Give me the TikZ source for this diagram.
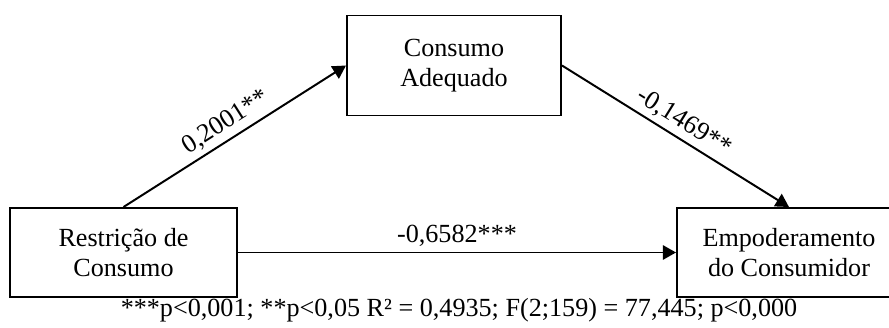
\documentclass[tikz,border=0pt]{standalone}
\usepackage{fontspec}
\setmainfont{Liberation Serif}
\usepackage{tikz}
\usetikzlibrary{arrows.meta}
\tikzset{>={Triangle[length=0.33cm,width=0.36cm]}}
\tikzset{
  varbox/.style={draw, line width=1.4pt, inner sep=0pt, align=center,
    minimum height=2.225cm, font=\fontsize{18.6pt}{21.7pt}\selectfont},
  effect/.style={->, line width=1.4pt},
  coef/.style={font=\fontsize{18.6pt}{21.7pt}\selectfont}
}

\begin{document}
\begin{tikzpicture}[scale=1]
            % Fix the page size
            \useasboundingbox (0,0) rectangle (22.225,8.2);

            % Draw the three variables
            \node[varbox, minimum width=5.675cm] (restr) at (3.0875,1.8875) {Restrição de\\Consumo};
            \node[varbox, minimum width=5.35cm, minimum height=2.5cm] (adeq) at (11.35,6.5625) {Consumo\\Adequado};
            \node[varbox, minimum width=5.6cm] (empod) at (19.725,1.8875) {Empoderamento\\do Consumidor};

            % Draw the paths with their coefficients
            \draw[effect] (restr.north) -- (adeq.west) node[coef, midway, sloped, above] {0,2001**};
            \draw[effect] (adeq.east) -- (empod.north) node[coef, midway, sloped, above] {-0,1469**};
            \draw[effect] (restr.east) -- (empod.west) node[coef, midway, above] {-0,6582***};

            % Add the model statistics below
            \node[coef, anchor=base] (stats) at (11.475,0.275) {***p<0,001; **p<0,05 R² = 0,4935; F(2;159) = 77,445; p<0,000};
          \end{tikzpicture}
\end{document}
